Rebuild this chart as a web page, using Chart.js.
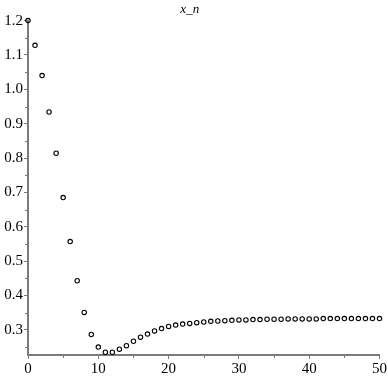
<!DOCTYPE html>
<html><head><meta charset="utf-8">
<script src="https://cdn.jsdelivr.net/npm/chart.js@4"></script>
<style>html,body{margin:0;padding:0;background:#fff}#wrap{width:388px;height:377px}</style>
</head><body><div id="wrap"><canvas id="c"></canvas></div>
<script>
const titleText = "x_n";
const nValues = Array.from({length: 51}, (_, i) => i);
const xnValues = [1.2, 1.128, 1.04, 0.934, 0.814, 0.685, 0.557, 0.443, 0.351, 0.287, 0.25, 0.235, 0.235, 0.244, 0.254, 0.267, 0.279, 0.288, 0.297, 0.304, 0.31, 0.314, 0.317, 0.319, 0.321, 0.323, 0.325, 0.326, 0.327, 0.328, 0.329, 0.329, 0.330, 0.330, 0.331, 0.331, 0.331, 0.332, 0.332, 0.332, 0.332, 0.332, 0.333, 0.333, 0.333, 0.333, 0.333, 0.333, 0.333, 0.333, 0.333];
const xTicks = [0, 10, 20, 30, 40, 50];
const xMinorTicks = [5, 15, 25, 35, 45];
const yTicks = [0.3, 0.4, 0.5, 0.6, 0.7, 0.8, 0.9, 1.0, 1.1, 1.2];
const yMinorTicks = [0.25, 0.35, 0.45, 0.55, 0.65, 0.75, 0.85, 0.95, 1.05, 1.15];

const axisColor = '#7a7a7a';
const minorTicks = {
  id: 'minorTicks',
  afterDraw(chart) {
    const ctx = chart.ctx, xs = chart.scales.x, ys = chart.scales.y;
    ctx.save();
    ctx.strokeStyle = axisColor;
    ctx.lineWidth = 1;
    const yb = ys.getPixelForValue(ys.min);
    xMinorTicks.forEach(v => {
      const px = Math.round(xs.getPixelForValue(v)) + 0.5;
      ctx.beginPath(); ctx.moveTo(px, yb); ctx.lineTo(px, yb + 3); ctx.stroke();
    });
    const xl = xs.getPixelForValue(0);
    yMinorTicks.forEach(v => {
      const py = Math.round(ys.getPixelForValue(v)) + 0.5;
      ctx.beginPath(); ctx.moveTo(xl, py); ctx.lineTo(xl - 3, py); ctx.stroke();
    });
    ctx.restore();
  }
};

new Chart(document.getElementById('c'), {
  type: 'scatter',
  data: {
    datasets: [{
      data: nValues.map((n, i) => ({x: n, y: xnValues[i]})),
      pointStyle: 'circle',
      pointRadius: 2.2,
      pointBorderWidth: 1.1,
      pointBorderColor: '#000',
      pointBackgroundColor: 'rgba(0,0,0,0)',
      showLine: false,
      clip: false
    }]
  },
  options: {
    responsive: true,
    maintainAspectRatio: false,
    animation: false,
    devicePixelRatio: 1,
    layout: {padding: {left: 0, right: 8.5, top: 0, bottom: 0}},
    plugins: {
      legend: {display: false},
      tooltip: {enabled: false},
      title: {
        display: true, text: titleText, color: '#000',
        font: {family: 'Liberation Serif', size: 13, style: 'italic', weight: 'normal', lineHeight: 1.2},
        padding: {top: 2, bottom: 3}
      }
    },
    scales: {
      x: {
        type: 'linear', min: 0, max: 50,
        afterBuildTicks: s => { s.ticks = xTicks.map(v => ({value: v})); },
        afterFit: s => { s.height = 22; },
        grid: {display: true, drawOnChartArea: false, drawTicks: true, tickLength: 4, tickColor: axisColor},
        border: {display: true, color: axisColor, width: 2},
        ticks: {color: '#000', padding: 1, maxRotation: 0, font: {family: 'Liberation Serif', size: 15}, callback: v => String(v)}
      },
      y: {
        type: 'linear', min: 0.227, max: 1.2,
        afterBuildTicks: s => { s.ticks = yTicks.map(v => ({value: v})); },
        afterFit: s => { s.width = 28; },
        grid: {display: true, drawOnChartArea: false, drawTicks: true, tickLength: 4, tickColor: axisColor},
        border: {display: true, color: axisColor, width: 2},
        ticks: {color: '#000', padding: 1, font: {family: 'Liberation Serif', size: 15}, callback: v => v.toFixed(1)}
      }
    }
  },
  plugins: [minorTicks]
});
</script></body></html>
